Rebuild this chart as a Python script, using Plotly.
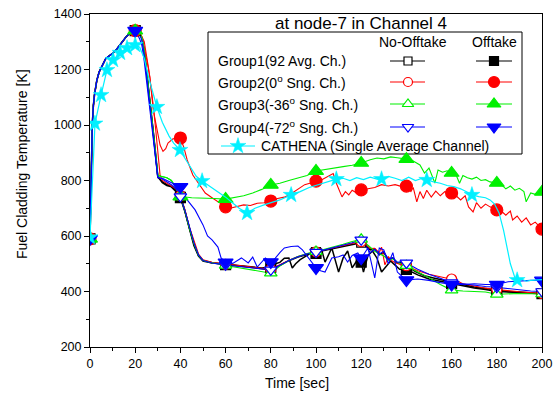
import plotly.graph_objects as go

# ---------------- data ----------------
t_rise = [0, 0.5, 1, 1.5, 2, 3, 4, 5, 6, 7, 8, 10, 12, 14, 16, 18, 20]
T_rise = [590, 850, 1000, 1070, 1110, 1160, 1190, 1207, 1225, 1240, 1246, 1258, 1275, 1295, 1318, 1333, 1340]

g1_no_t = [22, 23, 24, 25, 26, 27, 28, 29, 30, 32, 34, 36, 38, 40, 42, 44, 46, 48, 50, 54, 58, 60, 64, 68, 72, 76, 80,
           84, 88, 92, 96, 100, 104, 108, 112, 116, 120, 122, 124, 126, 128, 130, 132, 134, 136, 138, 140, 144, 148,
           152, 156, 160, 165, 170, 175, 180, 185, 190, 195, 200]
g1_no_T = [1330, 1312, 1265, 1195, 1120, 1050, 975, 890, 812, 795, 785, 780, 765, 742, 690, 628, 572, 530, 512, 504,
           500, 497, 493, 490, 486, 481, 478, 494, 511, 524, 534, 542, 549, 556, 564, 571, 576, 566, 550, 553, 532,
           540, 516, 521, 502, 506, 492, 472, 457, 449, 441, 433, 425, 416, 410, 405, 400, 398, 395, 392]

g1_off_t = [22, 23, 24, 25, 26, 27, 28, 29, 30, 32, 34, 36, 38, 40, 42, 44, 46, 48, 50, 54, 58, 60, 64, 68, 72, 76,
            80, 82, 84, 86, 88, 89.5, 91, 93, 95, 97, 100, 102.5, 104, 107, 110, 112, 114, 116, 118, 120, 121, 123,
            125, 127, 129, 131, 133, 135, 137, 140, 145, 150, 155, 160, 165, 170, 175, 180, 185, 190, 195, 200]
g1_off_T = [1328, 1315, 1270, 1200, 1130, 1060, 990, 900, 815, 792, 782, 777, 760, 738, 688, 625, 565, 528, 510, 503,
            500, 497, 495, 492, 490, 485, 488, 500, 505, 520, 521, 485, 500, 515, 525, 535, 537, 550, 506, 557, 470,
            521, 546, 485, 510, 506, 470, 530, 546, 520, 470, 490, 510, 495, 480, 480, 460, 445, 437, 428, 420, 413,
            407, 400, 398, 396, 393, 392]

g2_no_t = [22, 24, 26, 27, 28, 29, 30, 31, 32, 34, 36, 38, 40, 42, 44, 46, 47, 48, 50, 54, 58, 60, 64, 68, 72, 76, 80,
           84, 88, 92, 96, 100, 104, 108, 112, 116, 120, 122, 124, 126, 128, 129, 130.5, 132, 134, 136, 138, 140, 145,
           150, 155, 158, 160, 162, 165, 170, 175, 180, 185, 190, 195, 200]
g2_no_T = [1335, 1300, 1200, 1140, 1070, 990, 900, 820, 800, 790, 782, 770, 745, 695, 632, 578, 560, 535, 514, 505,
           501, 498, 495, 492, 488, 483, 480, 496, 513, 526, 536, 543, 551, 558, 566, 573, 580, 570, 555, 556, 540,
           560, 496, 525, 508, 500, 495, 493, 475, 462, 452, 448, 445, 440, 428, 420, 412, 407, 402, 399, 396, 393]

g3_no_t = [22, 23, 24, 25, 26, 27, 28, 29, 30, 32, 34, 36, 38, 40, 42, 44, 46, 48, 50, 54, 58, 60, 64, 68, 72, 76, 80,
           84, 88, 92, 96, 100, 104, 108, 112, 116, 120, 122, 124, 126, 128, 130, 132, 134, 136, 138, 140, 145, 150,
           155, 160, 165, 170, 175, 180, 185, 190, 195, 200]
g3_no_T = [1330, 1312, 1268, 1198, 1125, 1055, 985, 895, 818, 815, 810, 800, 775, 742, 690, 628, 572, 530, 512, 503,
           499, 494, 488, 482, 476, 470, 466, 492, 512, 526, 537, 544, 552, 560, 570, 580, 588, 574, 560, 545, 536,
           528, 512, 518, 505, 500, 493, 470, 450, 425, 405, 402, 400, 398, 390, 392, 393, 392, 391]

g4_no_t = list(g3_no_t)
g4_no_T = [1325, 1305, 1255, 1180, 1110, 1040, 970, 880, 812, 805, 795, 785, 770, 742, 692, 630, 575, 532, 512, 503,
           500, 496, 492, 489, 485, 481, 478, 495, 512, 525, 535, 542, 550, 558, 567, 576, 586, 565, 540, 552, 535,
           545, 515, 522, 505, 508, 503, 480, 462, 448, 432, 428, 422, 418, 415, 410, 405, 402, 400]

g4_off_t = [22, 23, 24, 25, 26, 27, 28, 29, 30, 32, 34, 36, 38, 40, 43, 46.5, 50, 52, 54, 56.6, 58, 60, 63, 65, 67,
            70, 72, 74, 76, 77.6, 80, 82, 84, 86, 89, 92, 94, 96.5, 100, 102, 104, 107, 110, 112, 114, 116, 118.5, 120,
            123, 126, 128, 130, 132, 134, 136, 138, 140, 145, 150, 155, 160, 165, 170, 175, 180, 185, 190, 195, 200]
g4_off_T = [1310, 1285, 1230, 1160, 1090, 1020, 950, 870, 810, 808, 800, 795, 785, 777, 730, 694, 640, 600, 586, 560,
            521, 505, 500, 510, 521, 503, 524, 488, 505, 521, 506, 520, 540, 557, 562, 564, 550, 521, 485, 475, 470,
            521, 525, 532, 506, 530, 539, 520, 557, 449, 557, 550, 500, 540, 470, 455, 441, 445, 440, 432, 425, 425,
            428, 425, 425, 435, 438, 440, 440]

g2_off_t = [22, 23.5, 25, 26.5, 28, 29.6, 31, 32.3, 33.5, 34.5, 36.7, 40, 41.5, 43, 45.5, 47, 51, 54, 57.5, 60, 62,
            65, 68, 71, 74, 77, 80, 83, 86, 89, 92, 95, 98, 100, 102, 104, 106, 107.6, 109, 111.5, 113, 114.5, 116,
            118, 120, 123, 126, 129, 132, 135, 138, 140, 142, 143, 144.6, 146, 147.5, 149, 151, 153, 155, 157, 160,
            162, 164, 166, 167.5, 169.5, 171, 173, 175, 177, 180, 182, 184, 186, 187, 189, 191, 193, 195, 197, 200]
g2_off_T = [1335, 1295, 1240, 1173, 1054, 990, 928, 905, 915, 935, 950, 953, 920, 874, 820, 802, 755, 738, 720, 705,
            700, 706, 712, 710, 718, 720, 726, 735, 740, 752, 770, 785, 792, 798, 800, 810, 820, 825, 790, 741, 760,
            748, 765, 755, 766, 770, 775, 785, 780, 785, 778, 780, 760, 775, 723, 760, 735, 765, 740, 762, 745, 760,
            755, 745, 730, 745, 705, 687, 720, 700, 715, 705, 694, 690, 675, 690, 658, 672, 650, 665, 640, 650, 625]

g3_off_t = [22, 23, 24, 25, 26, 27, 28, 29, 30, 32, 34, 36, 38, 40, 42, 45, 48, 51, 55, 60, 64, 68, 72, 76, 80, 84,
            88, 92, 96, 100, 104, 108, 112, 116, 120, 124, 127, 130, 133, 136, 140, 143, 146, 148, 150, 152.6, 154,
            156, 158, 160, 162, 163.5, 165, 167, 169, 171, 173, 175, 177, 180, 182, 184, 186, 188, 190, 192, 193, 195,
            197, 200]
g3_off_T = [1330, 1312, 1268, 1198, 1125, 1055, 985, 895, 818, 815, 810, 800, 775, 742, 740, 738, 737, 737, 735, 733,
            740, 745, 755, 768, 784, 790, 800, 808, 818, 834, 840, 845, 850, 855, 863, 875, 881, 878, 885, 882, 877,
            870, 856, 827, 845, 791, 838, 830, 835, 827, 820, 790, 818, 810, 805, 812, 800, 803, 795, 791, 785, 770,
            780, 765, 772, 760, 723, 755, 750, 759]

cath_t = [0, 2.2, 4.9, 7.5, 10.2, 13.3, 16.4, 20, 22, 24, 26, 28, 29.6, 32, 35, 37, 39.8, 42, 45, 47, 49.6, 52, 55,
          57.5, 60, 63, 66, 69.5, 73, 77, 80, 84, 89, 93, 97, 101, 105, 109, 112, 115, 118, 121, 124, 127, 129, 132,
          135, 138, 141, 144, 147, 149, 152, 155, 158, 161, 164, 167, 169, 172, 175, 177, 179, 181, 183, 184.5, 186,
          188, 189, 191, 193, 195, 197, 200]
cath_T = [595, 1005, 1108, 1198, 1234, 1260, 1277, 1288, 1280, 1240, 1170, 1110, 1065, 1010, 960, 935, 910, 880, 840,
          815, 798, 785, 770, 755, 740, 720, 700, 683, 700, 712, 720, 730, 748, 760, 775, 785, 795, 805, 808, 800, 810,
          803, 812, 805, 805, 815, 808, 800, 812, 800, 808, 802, 795, 790, 782, 778, 770, 758, 748, 742, 738, 730, 715,
          683, 620, 560, 500, 450, 441, 445, 437, 440, 442, 443]
cath_mk_t = [0, 2.2, 4.9, 7.5, 10.2, 13.3, 16.4, 20, 29.6, 39.8, 49.6, 69.5, 89, 109, 129, 149, 169, 189]
cath_mk_T = [595, 1005, 1108, 1198, 1234, 1260, 1277, 1288, 1065, 910, 798, 683, 748, 805, 805, 802, 748, 441]

x_ticks = [0, 20, 40, 60, 80, 100, 120, 140, 160, 180, 200]
y_ticks = [200, 400, 600, 800, 1000, 1200, 1400]

title_text = "at node-7 in Channel 4"
row_labels = ["Group1(92 Avg. Ch.)", "Group2(0<sup>o</sup> Sng. Ch.)",
              "Group3(-36<sup>o</sup> Sng. Ch.)", "Group4(-72<sup>o</sup> Sng. Ch.)"]
cath_label = "CATHENA (Single Average Channel)"

# ---------------- styling ----------------
FONT = "Liberation Sans, Arial, sans-serif"
BLACK, RED, GREEN, BLUE, CYAN = "#000000", "#ff0000", "#00f000", "#0000ff", "#00f0ff"

series = [
    (g1_no_t, g1_no_T, BLACK, "square", True, 9),
    (g1_off_t, g1_off_T, BLACK, "square", False, 10),
    (g2_no_t, g2_no_T, RED, "circle", True, 10),
    (g2_off_t, g2_off_T, RED, "circle", False, 12),
    (g3_no_t, g3_no_T, GREEN, "triangle-up", True, 11),
    (g3_off_t, g3_off_T, GREEN, "triangle-up", False, 13),
    (g4_no_t, g4_no_T, BLUE, "triangle-down", True, 11),
    (g4_off_t, g4_off_T, BLUE, "triangle-down", False, 13),
]

fig = go.Figure()
for tt, TT, col, sym, opn, sz in series:
    t_all = t_rise + tt
    T_all = T_rise + TT
    assert len(t_all) == len(T_all), (len(t_all), len(T_all))
    fig.add_trace(go.Scatter(x=t_all, y=T_all, mode="lines",
                             line=dict(color=col, width=1.5 if col == BLACK else 1.1),
                             showlegend=False, hoverinfo="skip"))
for tt, TT, col, sym, opn, sz in series:
    t_all = t_rise + tt
    T_all = T_rise + TT
    mx = [a for a, b in zip(t_all, T_all) if a % 20 == 0]
    my = [b for a, b in zip(t_all, T_all) if a % 20 == 0]
    fig.add_trace(go.Scatter(x=mx, y=my, mode="markers",
                             marker=dict(symbol=sym, size=sz, color="white" if opn else col,
                                         line=dict(color=col, width=1.2)),
                             showlegend=False, hoverinfo="skip"))

assert len(cath_t) == len(cath_T)
fig.add_trace(go.Scatter(x=cath_t, y=cath_T, mode="lines", line=dict(color=CYAN, width=1.2),
                         showlegend=False, hoverinfo="skip"))
fig.add_trace(go.Scatter(x=cath_mk_t, y=cath_mk_T, mode="markers",
                         marker=dict(symbol="star", size=12, color=CYAN, line=dict(color=CYAN, width=0.5)),
                         showlegend=False, hoverinfo="skip"))

# ---------------- custom legend (pixel-space overlay axis) ----------------
rows_y = [61, 82, 104, 127]
for i, (tt, TT, col, sym, opn, sz) in enumerate(series):
    ry = rows_y[i // 2]
    xs = (390, 408, 425) if opn else (476, 494, 512)
    fig.add_trace(go.Scatter(x=[xs[0], xs[2]], y=[ry, ry], xaxis="x2", yaxis="y2", mode="lines",
                             line=dict(color=col, width=1.2), showlegend=False, hoverinfo="skip"))
    fig.add_trace(go.Scatter(x=[xs[1]], y=[ry], xaxis="x2", yaxis="y2", mode="markers",
                             marker=dict(symbol=sym, size=sz - 1, color="white" if opn else col,
                                         line=dict(color=col, width=1.2)),
                             showlegend=False, hoverinfo="skip"))
fig.add_trace(go.Scatter(x=[221, 255], y=[146, 146], xaxis="x2", yaxis="y2", mode="lines",
                         line=dict(color=CYAN, width=1.2), showlegend=False, hoverinfo="skip"))
fig.add_trace(go.Scatter(x=[238], y=[146], xaxis="x2", yaxis="y2", mode="markers",
                         marker=dict(symbol="star", size=12, color=CYAN, line=dict(color=CYAN, width=0.5)),
                         showlegend=False, hoverinfo="skip"))

ann = []
ann.append(dict(text=title_text, x=361, y=23, xref="x2", yref="y2", showarrow=False,
                xanchor="center", yanchor="middle",
                font=dict(size=17, color="black", family=FONT)))
ann.append(dict(text="No-Offtake", x=413, y=42, xref="x2", yref="y2", showarrow=False,
                xanchor="center", yanchor="middle",
                font=dict(size=14, color="black", family=FONT)))
ann.append(dict(text="Offtake", x=494, y=42, xref="x2", yref="y2", showarrow=False,
                xanchor="center", yanchor="middle",
                font=dict(size=14, color="black", family=FONT)))
for lbl, ry in zip(row_labels, rows_y):
    ann.append(dict(text=lbl, x=216, y=ry, xref="x2", yref="y2", xanchor="left", yanchor="middle",
                    showarrow=False, font=dict(size=14, color="black", family=FONT)))
ann.append(dict(text=cath_label, x=259, y=146, xref="x2", yref="y2", xanchor="left", yanchor="middle",
                showarrow=False, font=dict(size=14, color="black", family=FONT)))
ann.append(dict(text="Fuel Cladding Temperature [K]", x=-0.150, y=0.55, xref="paper", yref="paper",
                xanchor="center", yanchor="middle",
                textangle=-90, showarrow=False, font=dict(size=14, color="black", family=FONT)))
ann.append(dict(text="Time [sec]", x=0.458, y=-0.108, xref="paper", yref="paper", showarrow=False,
                xanchor="center", yanchor="middle",
                font=dict(size=14, color="black", family=FONT)))

axis_common = dict(showline=True, linecolor="black", linewidth=1, mirror=True, showgrid=False,
                   zeroline=False, ticks="outside", ticklen=5, tickcolor="black", tickwidth=1,
                   tickfont=dict(size=12.5, color="black", family=FONT), automargin=False)

fig.update_layout(
    width=555, height=400,
    margin=dict(l=90, r=13, t=14, b=53, autoexpand=False),
    paper_bgcolor="white", plot_bgcolor="white",
    showlegend=False,
    xaxis=dict(range=[0, 200], tickvals=x_ticks, **axis_common,
               minor=dict(dtick=10, tick0=0, ticks="outside", ticklen=3, tickcolor="black", showgrid=False)),
    yaxis=dict(range=[200, 1400], tickvals=y_ticks, **axis_common,
               minor=dict(dtick=100, tick0=0, ticks="outside", ticklen=3, tickcolor="black", showgrid=False)),
    xaxis2=dict(range=[90, 542], overlaying="x", visible=False, fixedrange=True),
    yaxis2=dict(range=[347, 14], overlaying="y", visible=False, fixedrange=True),
    shapes=[dict(type="rect", xref="x2", yref="y2", x0=208, x1=522, y0=32, y1=154,
                 line=dict(color="black", width=1), fillcolor="rgba(255,255,255,0)", layer="below")],
    annotations=ann,
)

fig.write_html("out.html", config={"displayModeBar": False},
               post_script="document.body.style.margin='0px';")
